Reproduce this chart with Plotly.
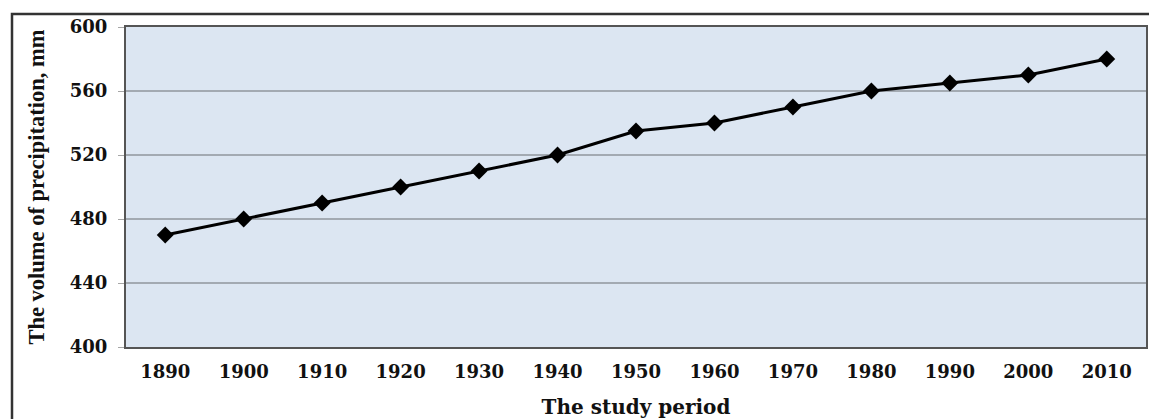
import plotly.graph_objects as go

years = ["1890", "1900", "1910", "1920", "1930", "1940", "1950", "1960", "1970", "1980", "1990", "2000", "2010"]
precip = [470, 480, 490, 500, 510, 520, 535, 540, 550, 560, 565, 570, 580]
y_ticks = [400, 440, 480, 520, 560, 600]

wide_font = "DejaVu Serif, serif"
times_font = "Liberation Serif, Times New Roman, serif"

W, H = 1149, 411
L, R, T, B = 118, 11, 19, 72
pw, ph = W - L - R, H - T - B

fig = go.Figure()
fig.add_trace(go.Scatter(
    x=years, y=precip, mode="lines+markers",
    line=dict(color="black", width=3),
    marker=dict(symbol="diamond", size=13, color="black"),
    showlegend=False,
))

fig.update_layout(
    width=W, height=H,
    margin=dict(l=L, r=R, t=T, b=B, autoexpand=False),
    paper_bgcolor="white",
    plot_bgcolor="#DCE6F2",
    font=dict(family=wide_font, color="black"),
    xaxis=dict(
        type="category",
        automargin=False,
        range=[-0.5, len(years) - 0.5],
        showgrid=False,
        showline=True, linecolor="#555555", linewidth=2, mirror=True,
        ticks="", tickfont=dict(size=18, family=wide_font, weight="bold", color="#111111"),
        title=dict(text="<b>The study period</b>", font=dict(size=20, family=wide_font, color="#111111"), standoff=21),
        ticklabelstandoff=7,
    ),
    yaxis=dict(
        automargin=False,
        range=[400, 600], tickvals=y_ticks,
        showgrid=True, gridcolor="#A3AAB2", gridwidth=1.5,
        showline=True, linecolor="#555555", linewidth=2, mirror=True,
        ticks="outside", ticklen=6, tickcolor="#A6A6A6",
        tickfont=dict(size=18, family=wide_font, weight="bold", color="#111111"),
        ticklabelstandoff=7,
        title=dict(text="<b>The volume of precipitation, mm</b>", font=dict(size=22.5, family=times_font, color="#111111"), standoff=19),
        zeroline=False,
    ),
)

fig.add_shape(type="rect", xref="paper", yref="paper",
              x0=(4 - L) / pw, x1=1.2, y0=-2, y1=1 + (T - 6) / ph,
              line=dict(color="#333333", width=2.5), fillcolor="rgba(0,0,0,0)", layer="below")

fig.write_html("out.html")
